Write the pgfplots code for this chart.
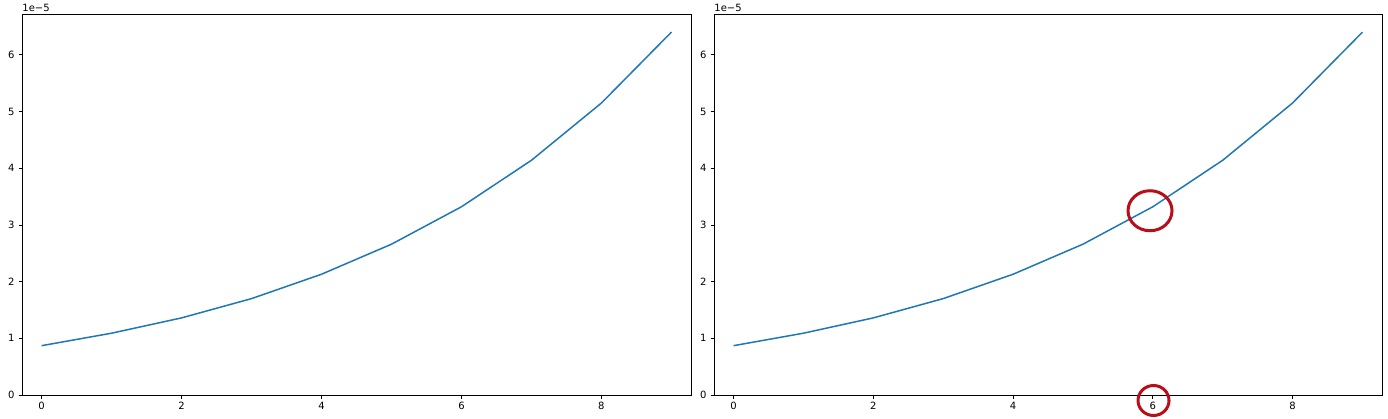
\documentclass[border=0pt]{standalone}
\usepackage{fontspec}
\setmainfont{DejaVu Sans}
\usepackage{pgfplots}
\pgfplotsset{compat=1.18}
\definecolor{mplblue}{HTML}{1F77B4}
\definecolor{annred}{RGB}{184,14,26}
\pgfplotsset{
  myax/.style={
    scale only axis, width=669pt, height=381pt,
    anchor=south west,
    xmin=-0.28, xmax=9.28, ymin=0, ymax=6.72e-5,
    xtick={0,2,4,6,8}, ytick={0,1e-5,2e-5,3e-5,4e-5,5e-5,6e-5},
    scaled y ticks=base 10:5,
    ytick scale label code/.code={},
    tick align=outside, major tick length=3.5pt,
    tick style={black, line width=0.8pt},
    axis line style={line width=0.8pt},
    every axis/.append style={line width=0.8pt},
    xtick pos=bottom, ytick pos=left,
    font=\fontsize{10}{12}\selectfont,
    /pgf/number format/assume math mode=true,
    xticklabel style={inner sep=0pt, yshift=-3.5pt},
    yticklabel style={inner sep=0pt, xshift=-3.5pt},
    clip=false,
  }
}
\begin{document}
\begin{tikzpicture}
\useasboundingbox (0,0) rectangle (1388pt,418pt);
\begin{axis}[myax, at={(22pt,23pt)}]
\addplot[mplblue, line width=1.5pt] coordinates {
(0,0.87e-5) (1,1.09e-5) (2,1.36e-5) (3,1.70e-5) (4,2.13e-5)
(5,2.66e-5) (6,3.32e-5) (7,4.14e-5) (8,5.15e-5) (9,6.40e-5)};
\node[anchor=south west, inner sep=0pt] at (rel axis cs:0,1) [yshift=2pt] {1e−5};
\end{axis}
\begin{axis}[myax, width=668pt, at={(714pt,23pt)}]
\addplot[mplblue, line width=1.5pt] coordinates {
(0,0.87e-5) (1,1.09e-5) (2,1.36e-5) (3,1.70e-5) (4,2.13e-5)
(5,2.66e-5) (6,3.32e-5) (7,4.14e-5) (8,5.15e-5) (9,6.40e-5)};
\node[anchor=south west, inner sep=0pt] at (rel axis cs:0,1) [yshift=2pt] {1e−5};
\draw[annred, line width=3pt] (axis cs:5.96,3.25e-5) ellipse [x radius=22pt, y radius=20pt];
\draw[annred, line width=3pt] (axis cs:6.01,-0.097e-5) ellipse [x radius=15.5pt, y radius=15pt];
\end{axis}
\end{tikzpicture}
\end{document}
